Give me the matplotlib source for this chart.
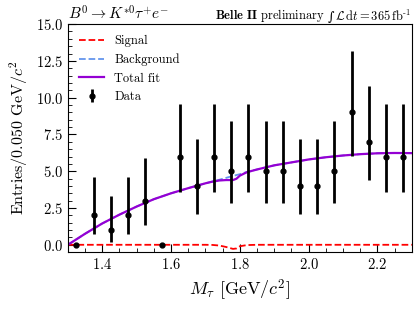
import matplotlib
matplotlib.use("Agg")
import matplotlib.pyplot as plt
import numpy as np
from matplotlib.ticker import MultipleLocator

plt.rcParams["font.family"] = "serif"
plt.rcParams["font.serif"] = ["cmr10", "DejaVu Serif"]
plt.rcParams["mathtext.fontset"] = "cm"
plt.rcParams["axes.formatter.use_mathtext"] = True

# datos: centros de bin y cuentas
bin_centers = [1.325, 1.375, 1.425, 1.475, 1.525, 1.575, 1.625, 1.675, 1.725, 1.775,
               1.825, 1.875, 1.925, 1.975, 2.025, 2.075, 2.125, 2.175, 2.225, 2.275]
counts = [0, 2, 1, 2, 3, 0, 6, 4, 6, 5, 6, 5, 5, 4, 4, 5, 9, 7, 6, 6]
err_low = [0, 1.29, 0.83, 1.29, 1.63, 0, 2.38, 1.91, 2.38, 2.16,
           2.38, 2.16, 2.16, 1.91, 1.91, 2.16, 2.94, 2.58, 2.38, 2.38]
err_high = [0, 2.64, 2.30, 2.64, 2.92, 0, 3.58, 3.16, 3.58, 3.38,
            3.58, 3.38, 3.38, 3.16, 3.16, 3.38, 4.16, 3.77, 3.58, 3.58]

# curvas del ajuste
x_fit = [1.30, 1.35, 1.40, 1.45, 1.50, 1.55, 1.60, 1.65, 1.70, 1.72, 1.74, 1.76, 1.78,
         1.79, 1.80, 1.82, 1.85, 1.90, 1.95, 2.00, 2.05, 2.10, 2.15, 2.20, 2.25, 2.30]
background = [0.0, 0.75, 1.45, 2.05, 2.6, 3.1, 3.5, 3.85, 4.18, 4.3, 4.42, 4.55, 4.68,
              4.74, 4.8, 4.95, 5.12, 5.4, 5.6, 5.8, 5.95, 6.07, 6.16, 6.22, 6.24, 6.23]
signal = [0, 0, 0, 0, 0, 0, 0, 0, 0, -0.01, -0.05, -0.15, -0.28,
          -0.25, -0.1, -0.02, 0, 0, 0, 0, 0, 0, 0, 0, 0, 0]
total = np.array(background) + np.array(signal)

fig = plt.figure(figsize=(4.19, 3.09), dpi=100)
ax = fig.add_axes([0.162, 0.184, 0.821, 0.738])

ax.plot(x_fit, signal, color="red", ls="--", lw=1.3, label="Signal")
ax.plot(x_fit, background, color="cornflowerblue", ls="--", lw=1.3, label="Background")
ax.plot(x_fit, total, color="darkviolet", lw=1.6, label="Total fit")
ax.errorbar(bin_centers, counts, yerr=[err_low, err_high], fmt="o", color="black",
            ms=3.5, elinewidth=2, capsize=0, label="Data")

ax.set_xlim(1.3, 2.3)
ax.set_ylim(-0.5, 15)
ax.xaxis.set_major_locator(MultipleLocator(0.2))
ax.xaxis.set_minor_locator(MultipleLocator(0.05))
ax.yaxis.set_major_locator(MultipleLocator(2.5))
ax.yaxis.set_minor_locator(MultipleLocator(0.5))
ax.tick_params(which="both", direction="in", labelsize=10.5)
ax.tick_params(which="major", length=6)
ax.tick_params(which="minor", length=3)

ax.set_xlabel(r"$M_{\tau}$ [GeV/$c^2$]", fontsize=13)
ax.set_ylabel(r"Entries/0.050 GeV/$c^2$", fontsize=11.5)
ax.set_title(r"$B^0 \to K^{*0}\tau^{+}e^{-}$", loc="left", fontsize=11, pad=3)

# texto de la derecha, armado en partes para que la integral quede pequeña
lumi = ax.text(1.0, 1.012, r"$\mathcal{L}\,\mathrm{d}t = 365\,\mathrm{fb}^{\text{-1}}$",
               transform=ax.transAxes, ha="right", va="baseline", fontsize=9)
integ = ax.annotate("∫", xy=(0, 0), xycoords=lumi, xytext=(-1, 0),
                    textcoords="offset points", ha="right", va="bottom",
                    fontsize=9, family="DejaVu Serif")
ax.annotate(r"$\mathbf{Belle\ II}$ preliminary", xy=(0, 0), xycoords=integ,
            xytext=(-2, 0), textcoords="offset points", ha="right", va="bottom",
            fontsize=9)

ax.legend(loc="upper left", frameon=False, fontsize=9)

fig.savefig("out.png", dpi=100)
